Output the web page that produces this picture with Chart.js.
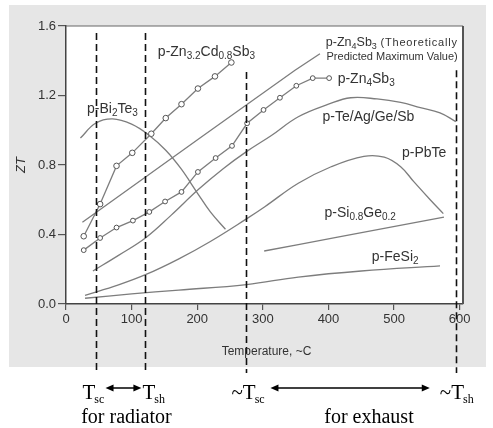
<!DOCTYPE html>
<html>
<head>
<meta charset="utf-8">
<script src="https://cdn.jsdelivr.net/npm/chart.js@4"></script>
<style>
  html, body { margin: 0; padding: 0; background: #fff; }
</style>
</head>
<body>
<canvas id="myChart" width="493" height="428"></canvas>
<script>
// temperatures (C) and ZT values
const tZnCd = [27, 52, 77, 101, 130, 152, 176, 201, 227, 252];
const ztZnCd = [0.39, 0.575, 0.795, 0.87, 0.98, 1.07, 1.15, 1.24, 1.31, 1.39];

const tZn4 = [27, 52, 77, 102, 127, 151, 176, 201, 228, 253, 276, 301, 326, 351, 376, 401];
const ztZn4 = [0.31, 0.38, 0.44, 0.48, 0.53, 0.59, 0.645, 0.76, 0.84, 0.91, 1.04, 1.117, 1.187, 1.256, 1.3, 1.3];

const tZn4Theory = [25, 202, 349, 387];
const ztZn4Theory = [0.47, 0.95, 1.345, 1.44];

const tBiTe = [22, 45, 71, 100, 127, 152, 175, 200, 220, 243];
const ztBiTe = [0.955, 1.04, 1.065, 1.035, 0.97, 0.885, 0.78, 0.64, 0.53, 0.43];

const tTeAg = [41, 80, 121, 160, 202, 240, 275, 313, 354, 400, 434, 474, 510, 540, 570, 594];
const ztTeAg = [0.19, 0.28, 0.38, 0.51, 0.66, 0.78, 0.877, 0.97, 1.078, 1.15, 1.187, 1.18, 1.16, 1.13, 1.1, 1.05];

const tPbTe = [29, 80, 122, 172, 220, 275, 303, 354, 404, 454, 485, 510, 530, 555, 575];
const ztPbTe = [0.05, 0.11, 0.17, 0.26, 0.36, 0.49, 0.56, 0.695, 0.79, 0.85, 0.845, 0.79, 0.704, 0.6, 0.52];

const tSiGe = [302, 354, 414, 576];
const ztSiGe = [0.305, 0.342, 0.385, 0.5];

const tFeSi = [29, 100, 172, 275, 354, 450, 570];
const ztFeSi = [0.033, 0.058, 0.08, 0.112, 0.155, 0.19, 0.219];

const xTicks = [0, 100, 200, 300, 400, 500, 600];
const yTicks = [0, 0.4, 0.8, 1.2, 1.6];

// dashed guide lines: temperature and where they start at the top
const guideTemps = [45, 121, 275, 594];
const guideTops = [1.56, 1.56, 1.335, 1.345];

// curve labels (data coordinates of left edge / middle), [text, isSubscript]
const curveLabels = [
    { x: 32, y: 1.122, size: 14, parts: [['p-Bi', 0], ['2', 1], ['Te', 0], ['3', 1]] },
    { x: 140, y: 1.45, size: 14, parts: [['p-Zn', 0], ['3.2', 1], ['Cd', 0], ['0.8', 1], ['Sb', 0], ['3', 1]] },
    { x: 396, y: 1.502, size: 12.5, parts: [['p-Zn', 0], ['4', 1], ['Sb', 0], ['3', 1]] },
    { x: 414, y: 1.295, size: 14, parts: [['p-Zn', 0], ['4', 1], ['Sb', 0], ['3', 1]] },
    { x: 391, y: 1.076, size: 14, parts: [['p-Te/Ag/Ge/Sb', 0]] },
    { x: 512, y: 0.869, size: 14, parts: [['p-PbTe', 0]] },
    { x: 394, y: 0.524, size: 14, parts: [['p-Si', 0], ['0.8', 1], ['Ge', 0], ['0.2', 1]] },
    { x: 466, y: 0.27, size: 14, parts: [['p-FeSi', 0], ['2', 1]] }
];

const SANS = '"Liberation Sans", Arial, sans-serif';
const SERIF = '"Liberation Serif", "Times New Roman", serif';
const lineColor = '#7d7d7d';

function pts(ts, zs) {
    return ts.map((t, i) => ({ x: t, y: zs[i] }));
}

function curve(label, ts, zs, opts) {
    return Object.assign({
        label: label,
        data: pts(ts, zs),
        borderColor: lineColor,
        borderWidth: 1.3,
        pointRadius: 0,
        fill: false,
        tension: 0
    }, opts || {});
}

function richText(ctx, x, y, parts, size) {
    const sub = Math.round(size * 0.72);
    ctx.textBaseline = 'middle';
    ctx.textAlign = 'left';
    parts.forEach(p => {
        if (p[1]) {
            ctx.font = sub + 'px ' + SANS;
            ctx.fillText(p[0], x, y + size * 0.3);
        } else {
            ctx.font = size + 'px ' + SANS;
            ctx.fillText(p[0], x, y);
        }
        x += ctx.measureText(p[0]).width;
    });
}

function arrow(ctx, x1, x2, y) {
    ctx.beginPath();
    ctx.moveTo(x1 + 6, y);
    ctx.lineTo(x2 - 6, y);
    ctx.lineWidth = 1.5;
    ctx.stroke();
    ctx.beginPath();
    ctx.moveTo(x1, y); ctx.lineTo(x1 + 8, y - 3.5); ctx.lineTo(x1 + 8, y + 3.5); ctx.closePath();
    ctx.moveTo(x2, y); ctx.lineTo(x2 - 8, y - 3.5); ctx.lineTo(x2 - 8, y + 3.5); ctx.closePath();
    ctx.fill();
}

function serifT(ctx, x, y, prefix, subTxt) {
    ctx.textBaseline = 'alphabetic';
    ctx.textAlign = 'left';
    ctx.font = '21px ' + SERIF;
    ctx.fillText(prefix + 'T', x, y);
    const w = ctx.measureText(prefix + 'T').width;
    ctx.font = '12px ' + SERIF;
    ctx.fillText(subTxt, x + w - 1, y + 4);
}

const deco = {
    id: 'deco',
    beforeDraw(chart) {
        const ctx = chart.ctx, a = chart.chartArea;
        ctx.save();
        ctx.fillStyle = '#ffffff';
        ctx.fillRect(0, 0, chart.width, chart.height);
        ctx.fillStyle = '#e6e6e6';
        ctx.fillRect(9, 5, 477, 362);
        ctx.fillStyle = '#ffffff';
        ctx.fillRect(a.left, a.top, a.right - a.left, a.bottom - a.top);
        ctx.restore();
    },
    afterDraw(chart) {
        const ctx = chart.ctx, a = chart.chartArea;
        const xs = chart.scales.x, ys = chart.scales.y;
        ctx.save();

        // top and right frame
        ctx.strokeStyle = '#666';
        ctx.lineWidth = 1.2;
        ctx.beginPath();
        ctx.moveTo(a.left, a.top); ctx.lineTo(a.right, a.top);
        ctx.stroke();
        ctx.strokeStyle = '#555';
        ctx.lineWidth = 2;
        ctx.beginPath();
        ctx.moveTo(a.right, a.top); ctx.lineTo(a.right, a.bottom);
        ctx.stroke();

        // dashed guide lines, running below the axis
        ctx.strokeStyle = '#111';
        ctx.lineWidth = 1.6;
        ctx.setLineDash([7, 4]);
        guideTemps.forEach((t, i) => {
            const px = Math.round(xs.getPixelForValue(t)) + 0.5;
            ctx.beginPath();
            ctx.moveTo(px, ys.getPixelForValue(guideTops[i]));
            ctx.lineTo(px, a.bottom + 69);
            ctx.stroke();
        });
        ctx.setLineDash([]);

        // curve labels
        ctx.fillStyle = '#333';
        curveLabels.forEach(l => {
            richText(ctx, xs.getPixelForValue(l.x), ys.getPixelForValue(l.y), l.parts, l.size);
        });
        const rx = xs.getPixelForValue(597);
        ctx.font = '11px ' + SANS;
        ctx.textAlign = 'right';
        ctx.textBaseline = 'middle';
        ctx.letterSpacing = '0.8px';
        ctx.fillText('(Theoretically', rx, ys.getPixelForValue(1.502));
        ctx.letterSpacing = '0px';
        ctx.fillText('Predicted Maximum Value)', rx, ys.getPixelForValue(1.42));

        // axis titles
        ctx.textAlign = 'center';
        ctx.font = '12px ' + SANS;
        ctx.fillText('Temperature, ~C', (a.left + a.right) / 2 + 2, a.bottom + 48);
        ctx.save();
        ctx.translate(21, ys.getPixelForValue(0.8));
        ctx.rotate(-Math.PI / 2);
        ctx.font = 'italic 13px ' + SANS;
        ctx.fillText('ZT', 0, 0);
        ctx.restore();

        // temperature ranges below the chart
        ctx.fillStyle = '#000';
        ctx.strokeStyle = '#000';
        const g = guideTemps.map(t => xs.getPixelForValue(t));
        const yT = a.bottom + 95, yA = a.bottom + 84, yF = a.bottom + 119;
        serifT(ctx, g[0] - 13, yT, '', 'sc');
        serifT(ctx, g[1] - 3, yT, '', 'sh');
        arrow(ctx, g[0] + 10, g[1] - 4, yA);
        serifT(ctx, g[2] - 15, yT, '~', 'sc');
        serifT(ctx, g[3] - 16, yT, '~', 'sh');
        arrow(ctx, g[2] + 24, g[3] - 26, yA);
        ctx.font = '20px ' + SERIF;
        ctx.textAlign = 'center';
        ctx.textBaseline = 'alphabetic';
        ctx.fillText('for radiator', (g[0] + g[1]) / 2 + 6, yF);
        ctx.fillText('for exhaust', 369, yF);
        ctx.restore();
    }
};

const marker = {
    pointRadius: 2.8,
    pointStyle: 'circle',
    pointBackgroundColor: '#fff',
    pointBorderColor: '#555',
    pointBorderWidth: 1
};

const ctx = document.getElementById('myChart').getContext('2d');
const myChart = new Chart(ctx, {
    type: 'line',
    data: {
        datasets: [
            curve('p-Zn3.2Cd0.8Sb3', tZnCd, ztZnCd, marker),
            curve('p-Zn4Sb3', tZn4, ztZn4, Object.assign({}, marker, { pointRadius: 2.4 })),
            curve('p-Zn4Sb3 (theory)', tZn4Theory, ztZn4Theory),
            curve('p-Bi2Te3', tBiTe, ztBiTe, { tension: 0.4 }),
            curve('p-Te/Ag/Ge/Sb', tTeAg, ztTeAg, { tension: 0.4 }),
            curve('p-PbTe', tPbTe, ztPbTe, { tension: 0.4 }),
            curve('p-Si0.8Ge0.2', tSiGe, ztSiGe),
            curve('p-FeSi2', tFeSi, ztFeSi, { tension: 0.4 })
        ]
    },
    options: {
        responsive: false,
        animation: false,
        events: [],
        layout: { padding: { left: 0, right: 30, top: 26, bottom: 94 } },
        plugins: { legend: { display: false }, tooltip: { enabled: false } },
        scales: {
            x: {
                type: 'linear',
                min: 0,
                max: 605,
                afterBuildTicks: s => { s.ticks = xTicks.map(v => ({ value: v })); },
                afterFit: s => { s.height = 30; },
                grid: { drawOnChartArea: false, drawTicks: true, tickLength: 6, color: '#555', lineWidth: 1.2 },
                border: { display: true, color: '#444', width: 1.5 },
                ticks: { color: '#333', padding: 2, maxRotation: 0, font: { family: SANS, size: 13 } }
            },
            y: {
                min: 0,
                max: 1.6,
                afterBuildTicks: s => { s.ticks = yTicks.map(v => ({ value: v })); },
                afterFit: s => { s.width = 66; },
                grid: { drawOnChartArea: false, drawTicks: true, tickLength: 8, color: '#555', lineWidth: 1.2 },
                border: { display: true, color: '#444', width: 1.5 },
                ticks: { color: '#333', padding: 2, font: { family: SANS, size: 13 }, callback: v => v.toFixed(1) }
            }
        }
    },
    plugins: [deco]
});
</script>
</body>
</html>
